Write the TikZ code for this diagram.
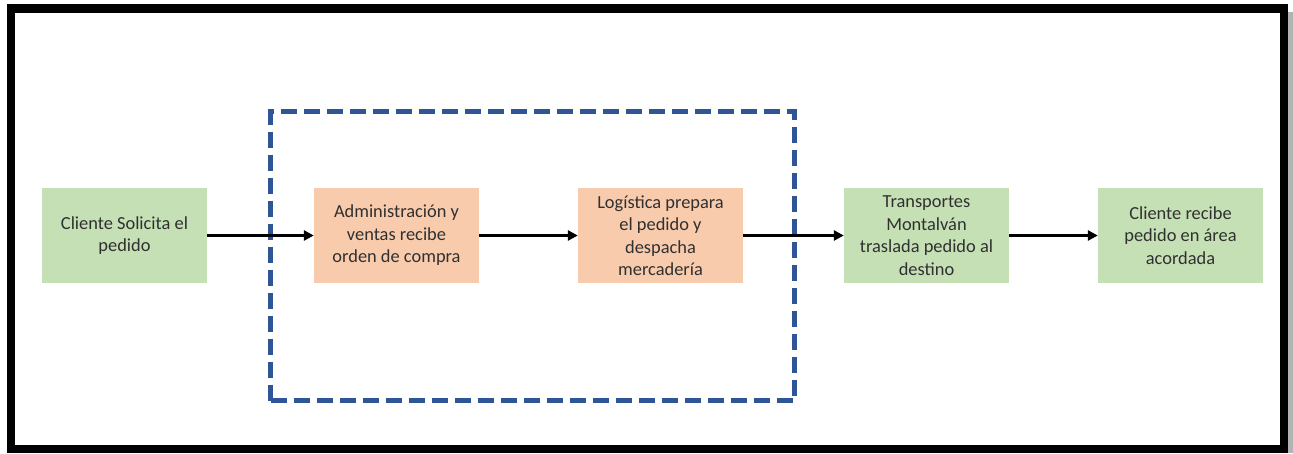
\documentclass[tikz,border=0pt]{standalone}
\usepackage{fontspec}
\setmainfont{Carlito}
\usetikzlibrary{arrows.meta}
\definecolor{boxgreen}{HTML}{C5E0B4}
\definecolor{boxorange}{HTML}{F8CBAD}
\definecolor{dashblue}{HTML}{2F5597}
\definecolor{txt}{HTML}{303030}
\begin{document}
\begin{tikzpicture}[x=1pt,y=-1pt,
  procbox/.style={rectangle, minimum width=165pt, minimum height=95pt, inner sep=0pt,
    align=center, text=txt, font=\fontsize{18.4}{22.5}\selectfont},
  greenbox/.style={procbox, fill=boxgreen},
  orangebox/.style={procbox, fill=boxorange},
  flow/.style={line width=2.7pt, draw=black, -{Triangle[length=10pt,width=10pt]}},
  groupbox/.style={rectangle, draw=dashblue, line width=4.8pt, dash pattern=on 16pt off 7pt,
    minimum width=524pt, minimum height=289pt, inner sep=0pt}
]
\useasboundingbox (0,0) rectangle (1293,453);
\fill[white] (0,0) rectangle (1293,453);
% shadow and frame
\fill[black!30] (1288,12) rectangle (1293,453);
\draw[line width=8.5pt] (11,8.5) rectangle (1284,449);

\node[groupbox] (grupo) at (532.5,256) {};

\node[greenbox] (b1) at (124.5,235.5) {Cliente Solicita el\\pedido};
\node[orangebox] (b2) at (396.5,235.5) {Administración y\\ventas recibe\\orden de compra};
\node[orangebox] (b3) at (660.5,235.5) {Logística prepara\\el pedido y\\despacha\\mercadería};
\node[greenbox] (b4) at (926.5,235.5) {Transportes\\Montalván\\traslada pedido al\\destino};
\node[greenbox] (b5) at (1180.5,235.5) {Cliente recibe\\pedido en área\\acordada};

\draw[flow] (b1) -- (b2);
\draw[flow] (b2) -- (b3);
\draw[flow] (b3) -- (b4);
\draw[flow] (b4) -- (b5);
\end{tikzpicture}
\end{document}
